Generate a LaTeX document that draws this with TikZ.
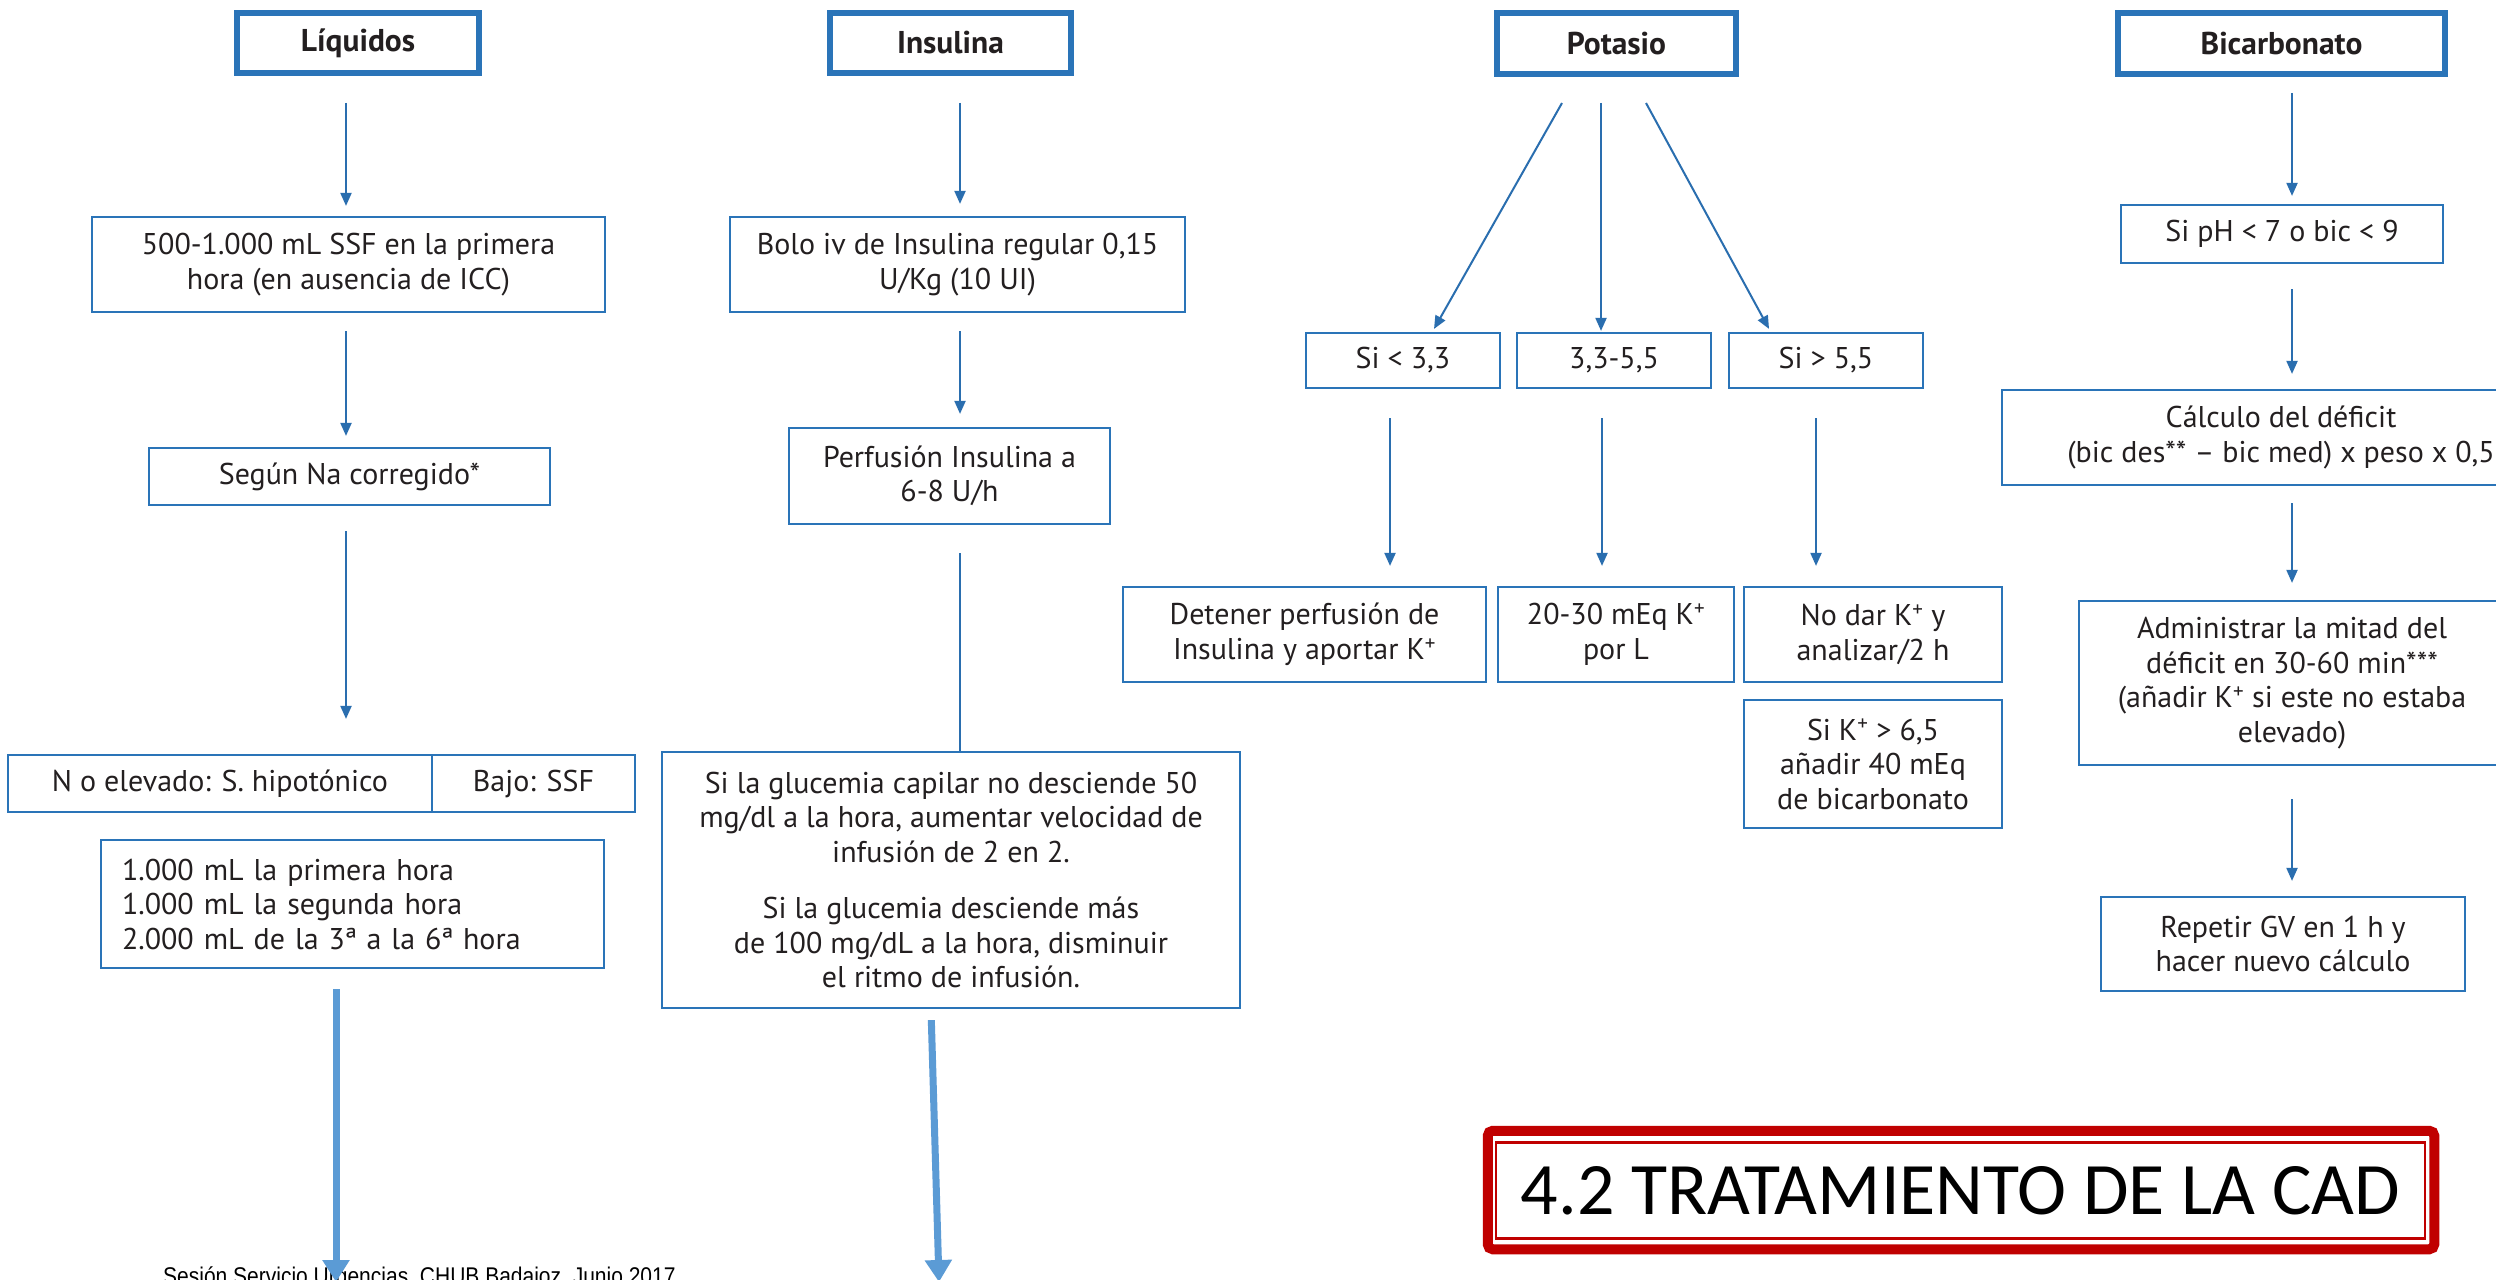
\documentclass[tikz,border=0pt]{standalone}
\usepackage{fontspec}
\setmainfont{PT Sans}
\newfontfamily\titlefont{Carlito}
\newfontfamily\footfont{Liberation Sans}
\usetikzlibrary{arrows.meta,calc}
\definecolor{boxblue}{HTML}{2A74B8}
\definecolor{arrblue}{HTML}{2A6EAF}
\definecolor{bigblue}{HTML}{5B9BD5}
\definecolor{titlered}{HTML}{C00000}
\definecolor{txt}{HTML}{231F20}
\begin{document}
\begin{tikzpicture}[x=1pt,y=-1pt,
  box/.style={draw=boxblue,line width=2.2pt,fill=white,text=txt,align=center,inner sep=0pt,font=\fontsize{30}{34.5}\selectfont},
  head/.style={box,line width=6pt,font=\fontsize{31.5}{34.5}\selectfont\bfseries},
  arr/.style={draw=arrblue,line width=2pt,-{Triangle[length=13pt,width=11pt]}},
  plainline/.style={draw=arrblue,line width=2pt},
  bigarr/.style={draw=bigblue,line width=7pt,-{Triangle[length=22pt,width=26pt]}},
]
\useasboundingbox (0,0) rectangle (2496,1279);
\fill[white] (0,0) rectangle (2496,1279);
\clip (0,0) rectangle (2496,1279);

% ---------- Liquidos ----------
\node[head,minimum width=242pt,minimum height=60pt] (liq) at (358,43) {Líquidos};
\node[box,minimum width=513pt,minimum height=95pt] (b500) at (348.5,264.5) {500-1.000 mL SSF en la primera\\hora (en ausencia de ICC)};
\node[box,minimum width=401pt,minimum height=57pt] (seg) at (349.5,476.5) {Según Na corregido*};
\node[box,minimum width=424pt,minimum height=57pt] (nelev) at (220,783.5) {N o elevado: S. hipotónico};
\node[box,minimum width=203pt,minimum height=57pt] (bajo) at (533.5,783.5) {Bajo: SSF};
\node[box,text width=461pt,inner xsep=21pt,minimum height=128pt,align=left] (l1000) at (352.5,904) {1.000 mL la primera hora\\1.000 mL la segunda hora\\2.000 mL de la 3ª a la 6ª hora};
\coordinate (c1) at (346,0);
\draw[arr,shorten <=27pt,shorten >=10pt] (c1 |- liq.south) -- (c1 |- b500.north);
\draw[arr,shorten <=18pt,shorten >=11pt] (c1 |- b500.south) -- (c1 |- seg.north);
\draw[arr,shorten <=25pt,shorten >=35pt] (c1 |- seg.south) -- (c1 |- nelev.north);

% ---------- Insulina ----------
\node[head,minimum width=241pt,minimum height=60pt] (ins) at (950.5,43) {Insulina};
\node[box,minimum width=455pt,minimum height=95pt] (bolo) at (957.5,264.5) {Bolo iv de Insulina regular 0,15\\U/Kg (10 UI)};
\node[box,minimum width=321pt,minimum height=96pt] (perf) at (949.5,476) {Perfusión Insulina a\\6-8 U/h};
\node[box,minimum width=578pt,minimum height=256pt] (glu) at (951,880) {Si la glucemia capilar no desciende 50\\mg/dl a la hora, aumentar velocidad de\\infusión de 2 en 2.\\[22pt]Si la glucemia desciende más\\de 100 mg/dL a la hora, disminuir\\el ritmo de infusión.};
\coordinate (c2) at (960,0);
\draw[arr,shorten <=27pt,shorten >=12pt] (c2 |- ins.south) -- (c2 |- bolo.north);
\draw[arr,shorten <=18pt,shorten >=13pt] (c2 |- bolo.south) -- (c2 |- perf.north);
\draw[plainline,shorten <=28pt] (c2 |- perf.south) -- (c2 |- glu.north);

% ---------- Potasio ----------
\node[head,minimum width=239pt,minimum height=61pt] (pot) at (1616.5,43.5) {Potasio};
\node[box,minimum width=194pt,minimum height=55pt] (s1) at (1403,360.5) {Si < 3,3};
\node[box,minimum width=194pt,minimum height=55pt] (s2) at (1614,360.5) {3,3-5,5};
\node[box,minimum width=194pt,minimum height=55pt] (s3) at (1826,360.5) {Si > 5,5};
\draw[arr] ($(pot.south)+(-54.5,26)$) -- ($(s1.north)+(31,-3)$);
\draw[arr] ($(pot.south)+(-15.5,26)$) -- ($(s2.north)+(-13,-1)$);
\draw[arr] ($(pot.south)+(29.5,26)$) -- ($(s3.north)+(-57,-3)$);
\node[box,minimum width=363pt,minimum height=95pt] (det) at (1304.5,634.5) {Detener perfusión de\\Insulina y aportar K\textsuperscript{+}};
\node[box,minimum width=236pt,minimum height=95pt] (veinte) at (1616,634.5) {20-30 mEq K\textsuperscript{+}\\por L};
\node[box,minimum width=258pt,minimum height=95pt] (nodar) at (1873,634.5) {No dar K\textsuperscript{+} y\\analizar/2 h};
\node[box,minimum width=258pt,minimum height=128pt] (sik) at (1873,764) {Si K\textsuperscript{+} > 6,5\\añadir 40 mEq\\de bicarbonato};
\coordinate (k1) at (1390,0);
\coordinate (k2) at (1602,0);
\coordinate (k3) at (1816,0);
\draw[arr,shorten <=29pt,shorten >=20pt] (k1 |- s1.south) -- (k1 |- det.north);
\draw[arr,shorten <=29pt,shorten >=20pt] (k2 |- s2.south) -- (k2 |- veinte.north);
\draw[arr,shorten <=29pt,shorten >=20pt] (k3 |- s3.south) -- (k3 |- nodar.north);

% ---------- Bicarbonato ----------
\node[head,minimum width=327pt,minimum height=61pt] (bic) at (2281.5,43.5) {Bicarbonato};
\node[box,minimum width=322pt,minimum height=58pt] (siph) at (2282,234) {Si pH < 7 o bic < 9};
\node[box,minimum width=558pt,minimum height=95pt] (calc) at (2281,437.5) {Cálculo del déficit\\(bic des** – bic med) x peso x 0,5};
\node[box,minimum width=426pt,minimum height=164pt] (adm) at (2292,683) {Administrar la mitad del\\déficit en 30-60 min***\\(añadir K\textsuperscript{+} si este no estaba\\elevado)};
\node[box,minimum width=364pt,minimum height=94pt] (rep) at (2283,944) {Repetir GV en 1 h y\\hacer nuevo cálculo};
\coordinate (c4) at (2292,0);
\draw[arr,shorten <=16pt,shorten >=8pt] (c4 |- bic.south) -- (c4 |- siph.north);
\draw[arr,shorten <=25pt,shorten >=15pt] (c4 |- siph.south) -- (c4 |- calc.north);
\draw[arr,shorten <=17pt,shorten >=17pt] (c4 |- calc.south) -- (c4 |- adm.north);
\draw[arr,shorten <=33pt,shorten >=15pt] (c4 |- adm.south) -- (c4 |- rep.north);

% ---------- Title ----------
\node[draw=titlered,line width=2.5pt,minimum width=929pt,minimum height=96pt,inner sep=0pt,font=\titlefont\fontsize{74}{80}\selectfont,text=black] (title) at (1960.5,1190.5) {4.2 TRATAMIENTO DE LA CAD};
\draw[titlered,line width=10pt,rounded corners=5pt] ($(title.north west)+(-7,-10.5)$) rectangle ($(title.south east)+(8,9.5)$);

% ---------- Footer ----------
\node[anchor=base west,inner sep=0pt,font=\footfont\fontsize{21}{25}\selectfont,text=black] (foot) at (163,1284) {\scalebox{1}[1.15]{Sesión Servicio Urgencias\ \ CHUB Badajoz\ \ Junio 2017}};

% ---------- Big arrows ----------
\coordinate (e1) at (336,1282);
\draw[bigarr,shorten <=20pt] (e1 |- l1000.south) -- (e1);
\coordinate (s2a) at (931,0);
\coordinate (e2) at (939,1282);
\draw[bigarr,shorten <=11pt] (s2a |- glu.south) -- (e2);
\end{tikzpicture}
\end{document}
